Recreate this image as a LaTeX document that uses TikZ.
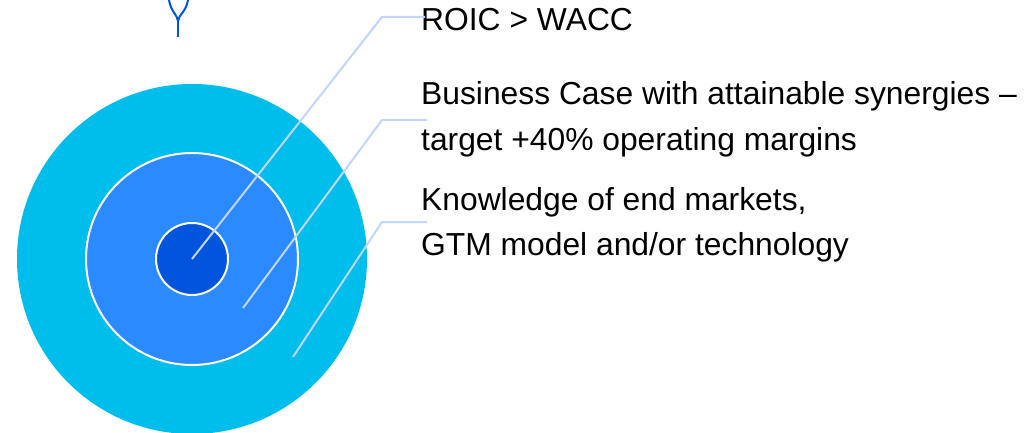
\documentclass[tikz,border=0pt]{standalone}
\usepackage{fontspec}
\setmainfont{Liberation Sans}
\definecolor{outerc}{HTML}{00BEEB}
\definecolor{midc}{HTML}{2B8AFF}
\definecolor{innerc}{HTML}{0055DC}
\definecolor{leadc}{HTML}{C2D5FF}
\begin{document}
\begin{tikzpicture}[x=1pt,y=-1pt,
  ring/.style={circle,inner sep=0pt},
  leader/.style={draw=leadc,line width=2pt},
  lab/.style={anchor=base west,inner sep=0pt,font=\fontsize{31.8}{36}\selectfont,text=black}]
\useasboundingbox (0,0) rectangle (1030,433);
\begin{scope}
\clip (0,0) rectangle (1030,433);
\node[ring,fill=outerc,minimum size=350pt] (outer) at (192,259) {};
\node[ring,fill=midc,draw=white,line width=2pt,minimum size=212pt] (middle) at (192,259) {};
\node[ring,fill=innerc,draw=white,line width=2pt,minimum size=72pt] (inner) at (192,259) {};
\end{scope}
% top glyph
\coordinate (g) at (178,21);
\draw[innerc,line width=2pt] (169,0) .. controls (171,12) and (177,14) .. (g);
\draw[innerc,line width=2pt] (188,0) .. controls (186,12) and (179,14) .. (g);
\draw[innerc,line width=2pt] (g) -- (178,37);
% labels
\node[lab] (t1) at (421,31) {ROIC > WACC};
\node[lab] (t2a) at (421,105) {Business Case with attainable synergies –};
\node[lab] (t2b) at (421,150) {target +40\% operating margins};
\node[lab] (t3a) at (421,210) {Knowledge of end markets,};
\node[lab] (t3b) at (421,255) {GTM model and/or technology};
% leaders
\coordinate (s1) at (192,259);
\coordinate (e1) at (382,17);
\coordinate (h1) at (425,17);
\coordinate (s2) at (243,308);
\coordinate (e2) at (382,120);
\coordinate (h2) at (427,120);
\coordinate (s3) at (293,357);
\coordinate (e3) at (382,222);
\coordinate (h3) at (427,222);
\draw[leader] (s1) -- (e1) -- (h1);
\draw[leader] (s2) -- (e2) -- (h2);
\draw[leader] (s3) -- (e3) -- (h3);
\end{tikzpicture}
\end{document}
